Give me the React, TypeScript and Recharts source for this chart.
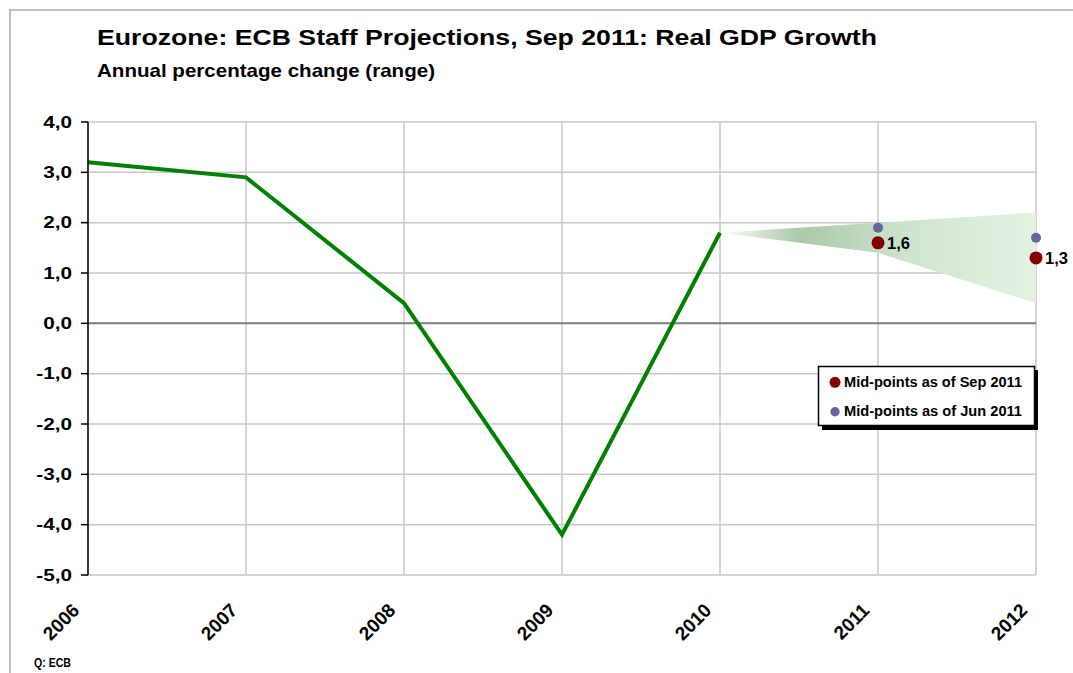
import React from 'react';
import {
  ComposedChart, Line, Area, XAxis, YAxis, CartesianGrid, ReferenceLine, LabelList,
} from 'recharts';

const years = [2006, 2007, 2008, 2009, 2010, 2011, 2012];
const gdp = [3.2, 2.9, 0.4, -4.2, 1.8, null, null];
const rangeLow = [null, null, null, null, 1.8, 1.4, 0.4];
const rangeHigh = [null, null, null, null, 1.8, 2.0, 2.2];
const midSep = [null, null, null, null, null, 1.6, 1.3];
const midJun = [null, null, null, null, null, 1.9, 1.7];
const yTicks = [-5, -4, -3, -2, -1, 0, 1, 2, 3, 4];

const data = years.map((year, i) => ({
  year,
  gdp: gdp[i],
  range: rangeLow[i] == null ? null : [rangeLow[i], rangeHigh[i]],
  sep: midSep[i],
  jun: midJun[i],
}));

const FONT = '"Liberation Sans", Arial, sans-serif';
const fmt = (v: number) => v.toFixed(1).replace('.', ',');

const YearTick = ({ x, y, payload }: any) => (
  <text
    transform={`translate(${x - 12} ${y + 24}) rotate(-45)`}
    textAnchor="end"
    dominantBaseline="central"
    fontFamily={FONT}
    fontWeight="bold"
    fontSize={19}
    fill="#000"
  >
    {payload.value}
  </text>
);

const ValueTick = ({ x, y, payload }: any) => (
  <text
    transform={`translate(${x - 7} ${y}) scale(1.22 1)`}
    textAnchor="end"
    dominantBaseline="central"
    fontFamily={FONT}
    fontWeight="bold"
    fontSize={17}
    fill="#000"
  >
    {fmt(payload.value)}
  </text>
);

export default function App() {
  return (
    <div style={{ position: 'absolute', left: 0, top: 0, width: 1073, height: 673, background: '#fff', overflow: 'hidden', fontFamily: FONT }}>
      <div style={{ position: 'absolute', left: 9, top: 9, width: 1100, height: 700, border: '2px solid #c0c0c0' }} />

      <div style={{ position: 'absolute', left: 0, top: 0 }}>
        <ComposedChart width={1073} height={673} data={data} margin={{ top: 122, right: 37, bottom: 38, left: 0 }}>
          <defs>
            <linearGradient id="bandGrad" x1="0" y1="0" x2="1" y2="0">
              <stop offset="0" stopColor="#ffffff" />
              <stop offset="0.25" stopColor="#aac8aa" />
              <stop offset="0.6" stopColor="#cfe4cf" />
              <stop offset="1" stopColor="#e3f2e3" />
            </linearGradient>
          </defs>
          <CartesianGrid stroke="#c8c8c8" strokeWidth={1.5} />
          <XAxis
            dataKey="year"
            type="number"
            domain={[2006, 2012]}
            ticks={years}
            axisLine={false}
            tickLine={false}
            tick={<YearTick />}
            height={60}
            interval={0}
          />
          <YAxis
            domain={[-5, 4]}
            ticks={yTicks}
            width={88}
            axisLine={{ stroke: '#000', strokeWidth: 1.5 }}
            tickLine={{ stroke: '#000', strokeWidth: 1.5 }}
            tickSize={7}
            tick={<ValueTick />}
            interval={0}
          />
          <ReferenceLine y={0} stroke="#808080" strokeWidth={2} />
          <Area
            dataKey="range"
            type="linear"
            stroke="none"
            fill="url(#bandGrad)"
            fillOpacity={1}
            isAnimationActive={false}
          />
          <Line
            dataKey="gdp"
            type="linear"
            stroke="#008000"
            strokeWidth={4}
            dot={false}
            isAnimationActive={false}
          />
          <Line
            dataKey="jun"
            stroke="none"
            dot={{ r: 5, fill: '#666699', stroke: 'none' }}
            isAnimationActive={false}
          />
          <Line
            dataKey="sep"
            stroke="none"
            dot={{ r: 6.5, fill: '#800000', stroke: 'none' }}
            isAnimationActive={false}
          >
            <LabelList
              dataKey="sep"
              position="right"
              offset={9}
              formatter={(v: any) => (v == null ? '' : fmt(v))}
              style={{ fill: '#000', fontSize: 16.5, fontWeight: 'bold', fontFamily: FONT }}
            />
          </Line>
        </ComposedChart>
      </div>

      <svg width={1073} height={673} style={{ position: 'absolute', left: 0, top: 0, pointerEvents: 'none' }} fontFamily={FONT} fontWeight="bold">
        <text x={97} y={45} fontSize={21.5} textLength={780} lengthAdjust="spacingAndGlyphs">
          Eurozone: ECB Staff Projections, Sep 2011: Real GDP Growth
        </text>
        <text x={97} y={76.5} fontSize={18.5} textLength={338} lengthAdjust="spacingAndGlyphs">
          Annual percentage change (range)
        </text>
        <text x={34} y={667} fontSize={12.5} textLength={37} lengthAdjust="spacingAndGlyphs">Q: ECB</text>

        <rect x={822} y={370} width={216} height={60} fill="#000" />
        <rect x={818.5} y={366.5} width={216} height={59} fill="#fff" stroke="#000" strokeWidth={1.5} />
        <circle cx={835} cy={382.3} r={5.5} fill="#800000" />
        <text x={844} y={387} fontSize={14} textLength={178} lengthAdjust="spacingAndGlyphs">Mid-points as of Sep 2011</text>
        <circle cx={835} cy={411.7} r={4.7} fill="#666699" />
        <text x={844} y={416.3} fontSize={14} textLength={178} lengthAdjust="spacingAndGlyphs">Mid-points as of Jun 2011</text>
      </svg>
    </div>
  );
}
